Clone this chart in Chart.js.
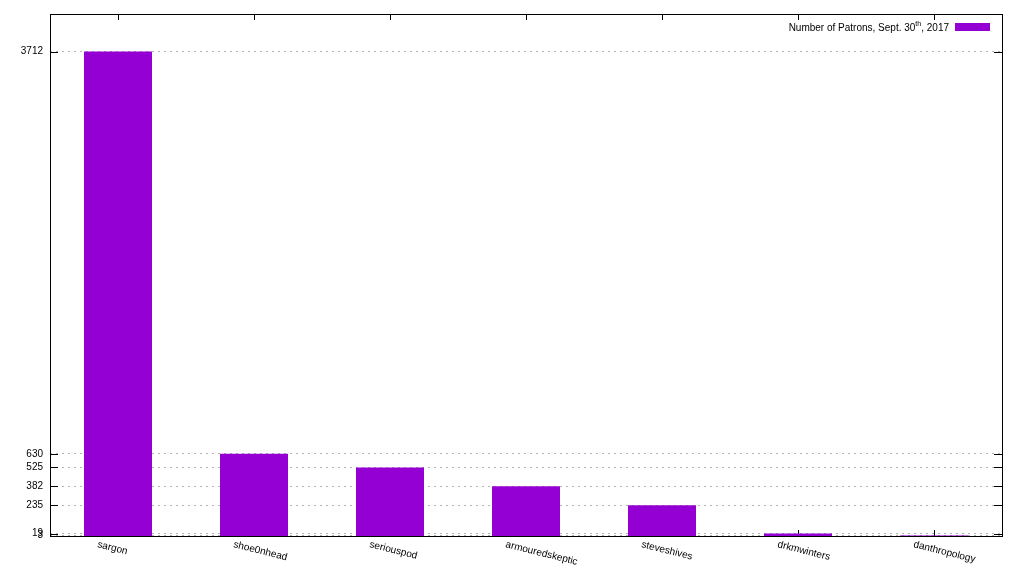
<!DOCTYPE html>
<html>
<head>
<meta charset="utf-8">
<script src="https://cdn.jsdelivr.net/npm/chart.js@4"></script>
<style>
  html, body { margin: 0; padding: 0; background: #fff; }
  #wrap { width: 1024px; height: 576px; }
</style>
</head>
<body>
<div id="wrap"><canvas id="chart" width="1024" height="576"></canvas></div>
<script>
// data
const names = ["sargon", "shoe0nhead", "seriouspod", "armouredskeptic", "steveshives", "drkmwinters", "danthropology"];
const patrons = [3712, 630, 525, 382, 235, 19, 3];
const yTicks = [3712, 630, 525, 382, 235, 19, 3];
const LEGEND_TEXT = "Number of Patrons, Sept. 30";
const BAR_COLOR = "#9400d3";
const FONT = "Liberation Sans, Arial, sans-serif";

// gnuplot style frame, inward ticks, tilted labels and key
const gnuplotLook = {
    id: "gnuplotLook",
    beforeDatasetsDraw(chart) {
        // ticks inside the frame, bars are painted over them
        const ctx = chart.ctx;
        const a = chart.chartArea;
        const xs = chart.scales.x, ys = chart.scales.y;
        ctx.save();
        ctx.strokeStyle = "#000";
        ctx.lineWidth = 1;
        ctx.beginPath();
        names.forEach(function (n, i) {
            const px = Math.round(xs.getPixelForValue(i)) + 0.5;
            ctx.moveTo(px, a.top); ctx.lineTo(px, a.top + 6);
            ctx.moveTo(px, a.bottom); ctx.lineTo(px, a.bottom - 6);
        });
        yTicks.forEach(function (v) {
            const py = Math.round(ys.getPixelForValue(v)) + 0.5;
            ctx.moveTo(a.left, py); ctx.lineTo(a.left + 8, py);
            ctx.moveTo(a.right, py); ctx.lineTo(a.right - 8, py);
        });
        ctx.stroke();
        ctx.restore();
    },
    afterDraw(chart) {
        const ctx = chart.ctx;
        const a = chart.chartArea;
        const xs = chart.scales.x;
        ctx.save();
        ctx.strokeStyle = "#000";
        ctx.lineWidth = 1;
        ctx.strokeRect(Math.round(a.left) + 0.5, Math.round(a.top) + 0.5,
            Math.round(a.right - a.left), Math.round(a.bottom - a.top));
        // x labels, tilted down to the right, starting left of the tick
        ctx.fillStyle = "#000";
        ctx.font = "10px " + FONT;
        ctx.textAlign = "left";
        ctx.textBaseline = "alphabetic";
        names.forEach(function (n, i) {
            const px = xs.getPixelForValue(i);
            ctx.save();
            ctx.translate(px - 21, a.bottom + 11);
            ctx.rotate(14 * Math.PI / 180);
            ctx.fillText(n, 0, 0);
            ctx.restore();
        });
        // key with superscript
        const ly = a.top + 13;
        ctx.font = "7px " + FONT;
        const supW = ctx.measureText("th").width;
        ctx.font = "10px " + FONT;
        const tail = ", 2017";
        const mainW = ctx.measureText(LEGEND_TEXT).width;
        const tailW = ctx.measureText(tail).width;
        const x0 = a.right - 53 - (mainW + supW + tailW);
        ctx.fillText(LEGEND_TEXT, x0, ly + 4);
        ctx.font = "7px " + FONT;
        ctx.fillText("th", x0 + mainW, ly - 1);
        ctx.font = "10px " + FONT;
        ctx.fillText(tail, x0 + mainW + supW, ly + 4);
        ctx.fillStyle = BAR_COLOR;
        ctx.fillRect(a.right - 47, ly - 4, 35, 8);
        ctx.restore();
    }
};

const ctxMain = document.getElementById("chart").getContext("2d");
const chart = new Chart(ctxMain, {
    type: "bar",
    data: {
        labels: names,
        datasets: [{
            label: "Number of Patrons",
            data: patrons,
            backgroundColor: BAR_COLOR,
            borderWidth: 0,
            barPercentage: 0.5,
            categoryPercentage: 1.0
        }]
    },
    options: {
        responsive: false,
        animation: false,
        layout: { padding: { top: 14, right: 22, left: 0, bottom: 0 } },
        plugins: {
            legend: { display: false },
            tooltip: { enabled: false }
        },
        scales: {
            x: {
                offset: true,
                grid: { display: false, drawTicks: false },
                border: { display: false },
                ticks: { display: false },
                afterFit: function (scale) { scale.height = 40; }
            },
            y: {
                min: 0,
                max: 4000,
                afterBuildTicks: function (scale) {
                    scale.ticks = yTicks.map(function (v) { return { value: v }; });
                },
                grid: {
                    color: "#b4b4b4",
                    lineWidth: 1,
                    drawTicks: false
                },
                border: { display: false, dash: [2, 4] },
                ticks: {
                    color: "#000",
                    padding: 7,
                    autoSkip: false,
                    font: { size: 10, family: FONT },
                    callback: function (v) { return String(v); }
                },
                afterFit: function (scale) { scale.width = 50; }
            }
        }
    },
    plugins: [gnuplotLook]
});
</script>
</body>
</html>
